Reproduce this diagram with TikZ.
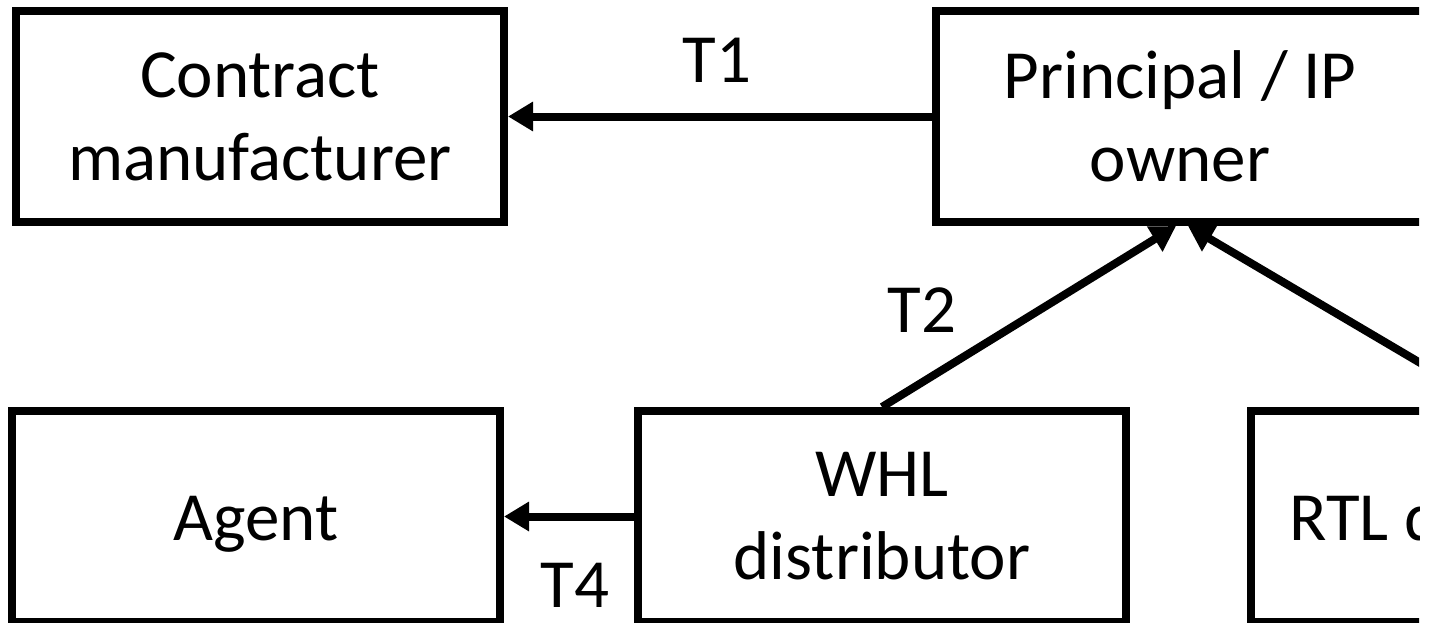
\documentclass[tikz,border=0pt]{standalone}
\usepackage{fontspec}
\setmainfont{Carlito}
\usetikzlibrary{arrows.meta,calc}
\begin{document}
\begin{tikzpicture}[x=1pt,y=-1pt,
  box/.style={draw=black,line width=8pt,minimum width=488pt,minimum height=211pt,
    inner sep=0pt,align=center,font=\fontsize{69}{83}\selectfont},
  onebox/.style={box,text height=47pt,text depth=0pt},
  lbl/.style={inner sep=0pt,font=\fontsize{69}{83}\selectfont},
  flow/.style={draw=black,line width=8pt,-{Triangle[length=25pt,width=28pt]}}]
\fill[white] (0,0) rectangle (1429,622);
\useasboundingbox (0,0) rectangle (1429,622);
\clip (0,0) rectangle (1419,622);

% entities
\node[box]    (cm)  at (260,116.5)  {Contract\\manufacturer};
\node[box]    (ip)  at (1180,116.5) {Principal / IP\\owner};
\node[onebox] (ag)  at (256,516.5)  {Agent};
\node[box]    (whl) at (882,516.5)  {WHL\\distributor};
\node[onebox] (rtl) at (1495,516.5) {RTL distributor};

% transactions
\draw[flow] (ip.west) -- (cm.east);
\draw[flow] (whl.north) -- ($(ip.south)+(-4,0)$);
\draw[flow] (rtl.north) -- ($(ip.south)+(8,0)$);
\draw[flow] (whl.west) -- (ag.east);

% transaction labels
\node[lbl] (t1) at (717,60)  {T1};
\node[lbl] (t2) at (922,310) {T2};
\node[lbl] (t4) at (575,585) {T4};
\end{tikzpicture}
\end{document}
